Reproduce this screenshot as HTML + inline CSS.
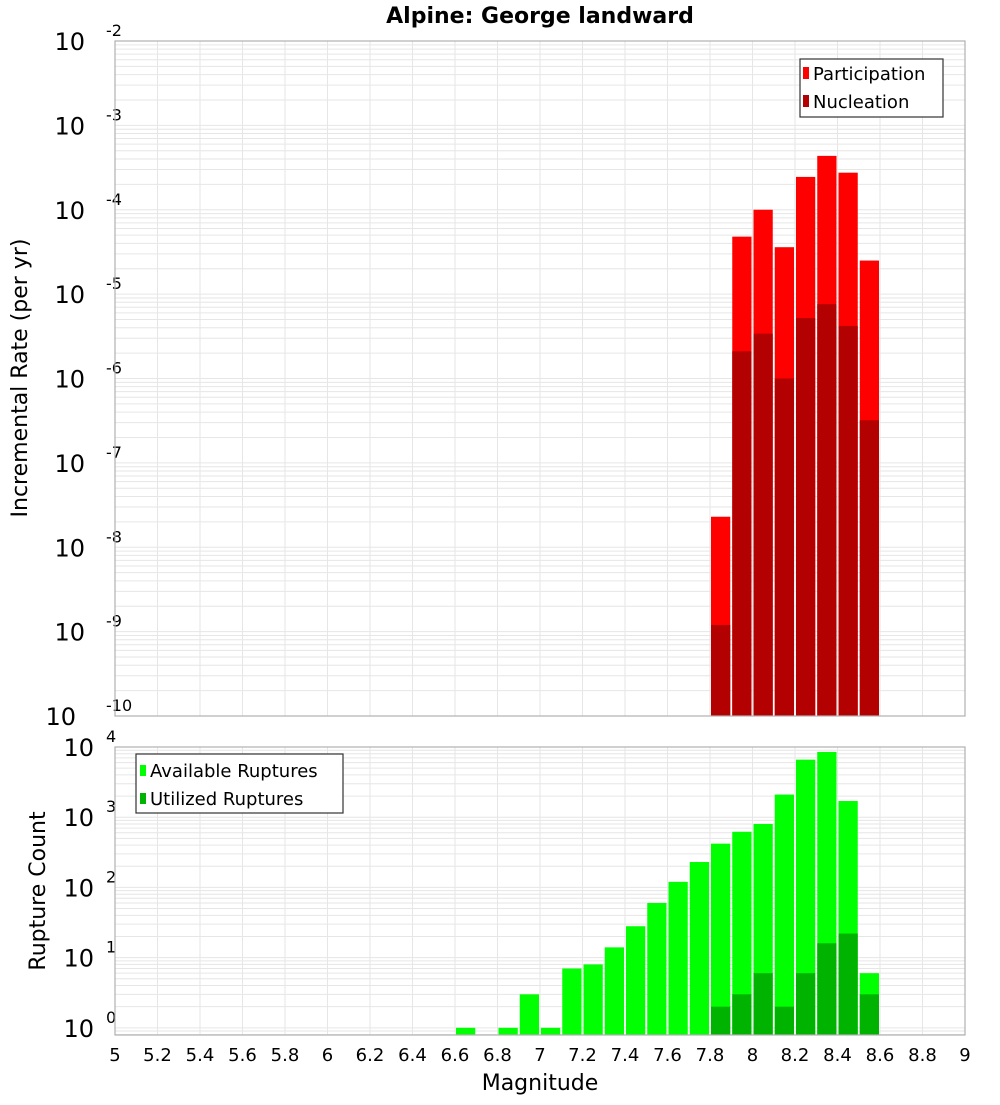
<!DOCTYPE html>
<html><head><meta charset="utf-8"><style>
body{margin:0;background:#fff;}
svg text{font-family:"DejaVu Sans","Liberation Sans",sans-serif;fill:#000;}
</style></head><body>
<svg id="chart" width="1000" height="1100" xmlns="http://www.w3.org/2000/svg">
<rect width="1000" height="1100" fill="#fff"/>
<text x="540" y="23" text-anchor="middle" font-size="22" font-weight="bold">Alpine: George landward</text>
<g id="top"></g>
<g id="bot"></g>
<text transform="translate(27,378) rotate(-90)" text-anchor="middle" font-size="22">Incremental Rate (per yr)</text>
<text transform="translate(45,891) rotate(-90)" text-anchor="middle" font-size="22">Rupture Count</text>
<text x="540" y="1090" text-anchor="middle" font-size="22">Magnitude</text>
<g>
<rect x="800" y="59" width="143" height="58" fill="#fff" stroke="#333" stroke-width="1.2"/>
<rect x="803" y="67" width="6" height="12" fill="#ff0000"/>
<text x="813" y="80" font-size="18">Participation</text>
<rect x="803" y="95" width="6" height="12" fill="#b30000"/>
<text x="813" y="108" font-size="18">Nucleation</text>
</g>
<g>
<rect x="136" y="754" width="207" height="59" fill="#fff" stroke="#333" stroke-width="1.2"/>
<rect x="140" y="765" width="6" height="11" fill="#00ff00"/>
<text x="150" y="777" font-size="18">Available Ruptures</text>
<rect x="140" y="793" width="6" height="11" fill="#00b300"/>
<text x="150" y="805" font-size="18">Utilized Ruptures</text>
</g>
</svg>
<script>
const rateMags=[7.8,7.9,8.0,8.1,8.2,8.3,8.4,8.5];
const participation=[2.3e-8,4.8e-5,1.0e-4,3.6e-5,2.45e-4,4.35e-4,2.75e-4,2.5e-5];
const nucleation=[1.2e-9,2.1e-6,3.4e-6,1.0e-6,5.2e-6,7.6e-6,4.2e-6,3.2e-7];
const countMags=[6.6,6.8,6.9,7.0,7.1,7.2,7.3,7.4,7.5,7.6,7.7,7.8,7.9,8.0,8.1,8.2,8.3,8.4,8.5];
const available=[1,1,3,1,7,8,14,28,60,120,230,420,620,800,2100,6600,8500,1700,6];
const utilizedMags=[7.8,7.9,8.0,8.1,8.2,8.3,8.4,8.5];
const utilized=[2,3,6,2,6,16,22,3];
const xTicks=["5","5.2","5.4","5.6","5.8","6","6.2","6.4","6.6","6.8","7","7.2","7.4","7.6","7.8","8","8.2","8.4","8.6","8.8","9"];
const rateExps=[-10,-9,-8,-7,-6,-5,-4,-3,-2];
const countExps=[0,1,2,3,4];

const NS="http://www.w3.org/2000/svg";
const L=115,R=965;
const xS=m=>L+(m-5)/4*(R-L);
function mk(tag,attrs,parent){const e=document.createElementNS(NS,tag);for(const k in attrs)e.setAttribute(k,attrs[k]);parent.appendChild(e);return e;}
function panel(g,top,bot,lmin,lmax,exps,name){
  const yS=v=>bot-(Math.log10(v)-lmin)/(lmax-lmin)*(bot-top);
  for(let d=Math.floor(lmin);d<Math.ceil(lmax);d++){for(let k=1;k<10;k++){const lv=d+Math.log10(k);if(lv<lmin||lv>lmax)continue;const y=bot-(lv-lmin)/(lmax-lmin)*(bot-top);
    const ln=mk('line',{x1:L,x2:R,y1:y,y2:y,stroke:'#e6e6e6','stroke-width':1},g);
    
    }}
  xTicks.forEach(t=>{const x=xS(parseFloat(t));
    const ln=mk('line',{x1:x,x2:x,y1:top,y2:bot,stroke:'#e6e6e6','stroke-width':1},g);
    
    });
  exps.forEach(e=>{const y=yS(Math.pow(10,e));
    const t=mk('text',{x:L-10,y:y+9,'text-anchor':'end','font-size':24},g);
    
    
    t.textContent='10';
    const s=mk('text',{x:L-11,y:y-5,'text-anchor':'start','font-size':16},g);
    
    
    s.textContent=String(e);
    s.setAttribute('x',L-11-(String(e).length*9.5)+ (String(e).length>1?0:0));
    s.setAttribute('text-anchor','start');
    s.setAttribute('x',L-9);s.setAttribute('text-anchor','start');
    t.setAttribute('x',L-12-String(e).length*9);
  });
  return yS;
}
function bars(g,mags,vals,yS,bot,color,name){
  mags.forEach((m,i)=>{const x0=xS(m),x1=xS(m+0.1);const y=Math.max(yS(vals[i]),0);
    const r=mk('rect',{x:x0+1,y:y,width:x1-x0-2,height:bot-y,fill:color},g);
    
    });
}
const gt=document.getElementById('top'),gb=document.getElementById('bot');
const yT=panel(gt,41,716,-10,-2,rateExps,'rate');
bars(gt,rateMags,participation,yT,716,'#ff0000','participation');
bars(gt,rateMags,nucleation,yT,716,'#b30000','nucleation');
mk('rect',{x:L,y:41,width:R-L,height:675,fill:'none',stroke:'#b0b0b0','stroke-width':1.2},gt);
const yB=panel(gb,747,1035,Math.log10(0.79),4.0,countExps,'count');
bars(gb,countMags,available,yB,1035,'#00ff00','available');
bars(gb,utilizedMags,utilized,yB,1035,'#00b300','utilized');
mk('rect',{x:L,y:747,width:R-L,height:288,fill:'none',stroke:'#b0b0b0','stroke-width':1.2},gb);
xTicks.forEach(t=>{const tx=mk('text',{x:xS(parseFloat(t)),y:1061,'text-anchor':'middle','font-size':18},gb);
  
  
  tx.textContent=t;});
</script>
</body></html>
